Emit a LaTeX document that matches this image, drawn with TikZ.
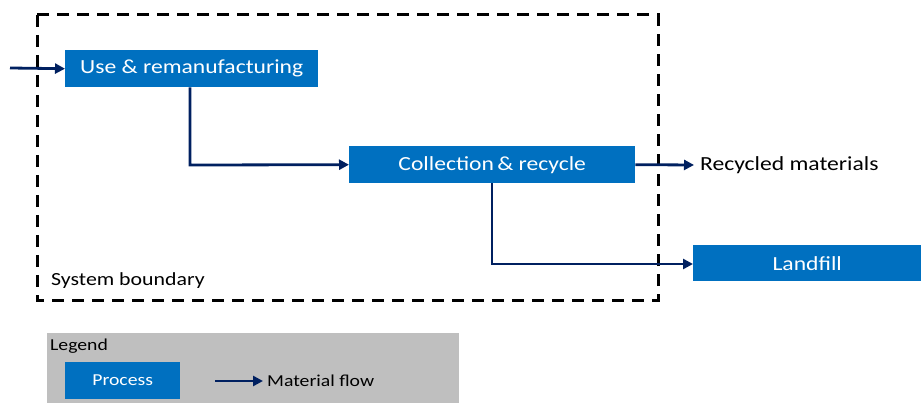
\documentclass[tikz,border=0pt]{standalone}
\usepackage{fontspec}
\setmainfont{Carlito}[FakeStretch=1.18]
\usetikzlibrary{arrows.meta}
\definecolor{procblue}{HTML}{0070C0}
\definecolor{flownavy}{HTML}{002060}
\definecolor{leggray}{HTML}{BFBFBF}
\tikzset{
  proc/.style={fill=procblue, text=white, inner sep=0pt, anchor=north west, font=\fontsize{20}{24}\selectfont},
  flow/.style={draw=flownavy, line width=2.8pt, -{Triangle[length=10pt,width=10pt]}},
  boundary/.style={draw=black, line width=3pt, dash pattern=on 12pt off 8pt},
  legtext/.style={font=\fontsize{16.7}{20}\selectfont},
}
\begin{document}
\begin{tikzpicture}[x=1pt,y=-1pt]
\useasboundingbox (0,0) rectangle (923,403);
% legend background
\fill[leggray] (47,333) rectangle (459,403);
\node[anchor=west, legtext, inner sep=1pt] (legtitle) at (49,346) {Legend};
\node[proc, legtext, minimum width=115pt, minimum height=37pt] (legproc) at (65,362) {Process};
\coordinate (lega) at (215,381);
\node[anchor=west, legtext, inner sep=1pt] (legflow) at (266,381) {Material flow};
\draw[flow, shorten >=3pt] (lega) -- (legflow.west);
% system boundary
\draw[boundary] (37,15) rectangle (658,300);
\node[anchor=west, font=\fontsize{18.5}{22}\selectfont, inner sep=1pt] (sb) at (50,281) {System boundary};
% processes
\node[proc, minimum width=253pt, minimum height=37pt] (use) at (65,50) {Use \& remanufacturing};
\node[proc, minimum width=286pt, minimum height=37pt] (coll) at (349,146) {Collection\,\& recycle};
\node[proc, minimum width=228pt, minimum height=36pt] (land) at (693,245) {Landfill};
\node[anchor=west, font=\fontsize{20}{24}\selectfont, inner sep=1pt] (recy) at (699,165) {Recycled materials};
% flows
\coordinate (in) at (10,68);
\draw[flow] (in) -- (use.west);
\draw[flow] (use.south -| 190,0) -- (190,165) -- (coll.west);
\draw[flow, shorten >=5pt] (coll.east) -- (recy.west);
\draw[flow] (coll.south -| 492,0) -- (492,264) -- (land.west |- 492,264);
\end{tikzpicture}
\end{document}
